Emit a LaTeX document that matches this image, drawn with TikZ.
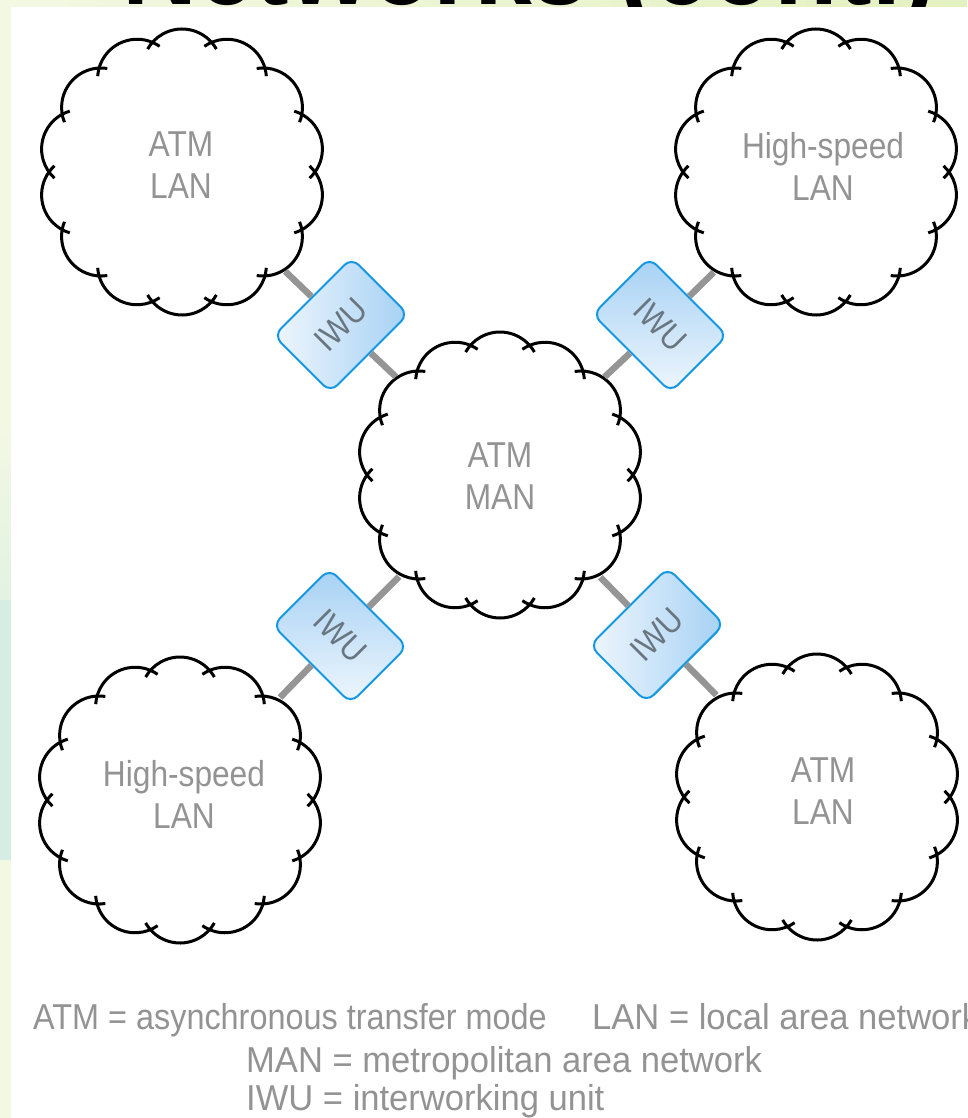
\documentclass[tikz,border=0pt]{standalone}
\usepackage{fontspec}
\setmainfont{Liberation Sans}[FakeStretch=0.88]
\newfontfamily\keyfont{Liberation Sans}[FakeStretch=0.96]
\newfontfamily\keynarrow{Liberation Sans}[FakeStretch=0.9]
\usetikzlibrary{calc}

\definecolor{stripA}{HTML}{F3F8E3}
\definecolor{stripB}{HTML}{E4F1C0}
\definecolor{stripTeal}{HTML}{D5EDE2}
\definecolor{labelgray}{HTML}{939393}
\definecolor{linkgray}{HTML}{959595}
\definecolor{iwublue}{HTML}{1598E2}
\definecolor{iwulight}{HTML}{EEF6FD}
\definecolor{iwudark}{HTML}{A6D1F4}
\definecolor{iwutext}{HTML}{6A767F}

\tikzset{
  cloudline/.style={draw=black, line width=3pt},
  cloudarea/.style={circle, minimum size=286pt, inner sep=0pt},
  cloudtext/.style={align=center, inner sep=0pt,
    font=\fontsize{36}{42}\selectfont, text=labelgray},
  iwubox/.style={draw=iwublue, line width=2pt, rounded corners=10pt,
    minimum width=110pt, minimum height=80pt, inner sep=0pt,
    font=\fontsize{34}{40}\selectfont, text=iwutext},
  iwuup/.style={iwubox, rotate=45, left color=iwulight, right color=iwudark},
  iwudown/.style={iwubox, rotate=-45, bottom color=iwulight, top color=iwudark},
  link/.style={draw=linkgray, line width=6.5pt},
  keytext/.style={anchor=base west, inner sep=0pt, text=labelgray,
    font=\fontsize{36}{42}\keyfont},
  netcloud/.pic={
    \foreach \k in {0,...,13}{
      \pgfmathsetmacro\pa{90+\k*360/14}
      \draw[cloudline] (\pa:103.5pt) ++(\pa-60.5:39.5pt)
        arc[start angle=\pa-60.5, end angle=\pa+60.5, radius=39.5pt];
    }
  }
}

\begin{document}
\begin{tikzpicture}[x=1pt,y=1pt]
\useasboundingbox (0,0) rectangle (967,-1118);

% slide backdrop: title band and left margin
\shade[left color=stripA, right color=stripB] (0,0) rectangle (967,-7);
\fill[stripA] (0,-7) rectangle (11,-420);
\shade[top color=stripA, bottom color=stripTeal!55!stripA] (0,-420) rectangle (11,-600);
\fill[stripTeal] (0,-600) rectangle (11,-860);
\fill[stripA] (0,-860) rectangle (11,-1118);
\begin{scope}
  \clip (0,0) rectangle (967,-7);
  \node[anchor=base west, inner sep=0pt, font=\fontsize{118}{118}\selectfont\bfseries]
    (title) at (122,-5) {Networks (cont.)};
\end{scope}

% drawing area
\fill[white] (11,-7) rectangle (967,-1118);

% networks
\node[cloudarea] (lanTL) at (182,-172) {};
\node[cloudarea] (lanTR) at (816,-172) {};
\node[cloudarea] (man)   at (500,-475) {};
\node[cloudarea] (lanBL) at (180,-800) {};
\node[cloudarea] (lanBR) at (817,-797) {};
\foreach \c in {lanTL,lanTR,man,lanBL,lanBR}{
  \pic at (\c) {netcloud};
}
\node[cloudtext] (txtTL) at (181,-165) {ATM\\LAN};
\node[cloudtext] (txtTR) at (823,-166) {High-speed\\LAN};
\node[cloudtext] (txtMAN) at (500,-476) {ATM\\MAN};
\node[cloudtext] (txtBL) at (184,-794) {High-speed\\LAN};
\node[cloudtext] (txtBR) at (823,-791) {ATM\\LAN};

% interworking units
\node[iwuup]   (iwuTL) at (341,-325) {IWU};
\node[iwudown] (iwuTR) at (660,-325) {IWU};
\node[iwudown] (iwuBL) at (340,-636) {IWU};
\node[iwuup]   (iwuBR) at (657,-635) {IWU};

% links
\draw[link] (lanTL) -- (iwuTL);
\draw[link] (iwuTL) -- (man);
\draw[link] (lanTR) -- (iwuTR);
\draw[link] (iwuTR) -- (man);
\draw[link] (lanBL) -- (iwuBL);
\draw[link] (iwuBL) -- (man);
\draw[link] (lanBR) -- (iwuBR);
\draw[link] (iwuBR) -- (man);

% key
\node[keytext, font=\fontsize{36}{42}\keynarrow] (keyATM) at (33,-1029)
  {ATM = asynchronous transfer mode};
\node[keytext] (keyLAN) at (592,-1029) {LAN = local area network};
\node[keytext] (keyMAN) at (246,-1072) {MAN = metropolitan area network};
\node[keytext] (keyIWU) at (246,-1110) {IWU = interworking unit};
\end{tikzpicture}
\end{document}
